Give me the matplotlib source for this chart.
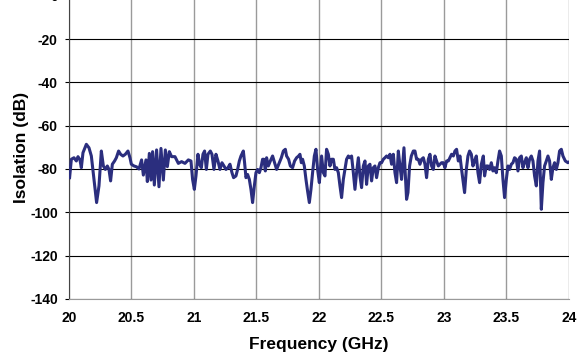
import matplotlib.pyplot as plt
import numpy as np

# Isolation vs frequency
freq_ghz = [
    20.005, 20.019, 20.040, 20.059, 20.072, 20.088, 20.099, 20.112, 20.139, 20.160,
    20.179, 20.200, 20.221, 20.240, 20.259, 20.275, 20.291, 20.307, 20.320, 20.333,
    20.347, 20.365, 20.379, 20.397, 20.413, 20.432, 20.451, 20.472, 20.488, 20.499,
    20.520, 20.541, 20.560, 20.581, 20.595, 20.616, 20.627, 20.643, 20.656, 20.669,
    20.683, 20.701, 20.720, 20.736, 20.755, 20.771, 20.787, 20.803, 20.821, 20.848,
    20.875, 20.901, 20.928, 20.955, 20.976, 20.989, 21.003, 21.016, 21.032, 21.045,
    21.059, 21.072, 21.085, 21.099, 21.112, 21.131, 21.144, 21.160, 21.176, 21.192,
    21.208, 21.224, 21.240, 21.256, 21.272, 21.288, 21.304, 21.317,
    21.336, 21.349, 21.363, 21.376, 21.395, 21.405, 21.416, 21.429, 21.443, 21.456,
    21.469, 21.483, 21.496, 21.509, 21.523, 21.536, 21.549, 21.560, 21.571, 21.581,
    21.595, 21.611, 21.629, 21.645, 21.661, 21.683, 21.699, 21.715, 21.731, 21.741,
    21.757, 21.771, 21.789, 21.805, 21.821, 21.837, 21.848, 21.859, 21.869, 21.883,
    21.896, 21.909, 21.923, 21.936, 21.949, 21.963, 21.976, 21.989, 22.003,
    22.021, 22.035, 22.048, 22.061, 22.075, 22.088, 22.101, 22.115, 22.128, 22.141,
    22.155, 22.168, 22.181, 22.195, 22.208, 22.221, 22.235, 22.248, 22.261, 22.275,
    22.288, 22.301, 22.315, 22.328, 22.341, 22.355, 22.368, 22.381, 22.395, 22.408,
    22.421, 22.435, 22.448, 22.461, 22.475, 22.488, 22.501, 22.515, 22.528, 22.541,
    22.555, 22.568, 22.581, 22.595, 22.608, 22.621, 22.635, 22.648, 22.661,
    22.680, 22.701, 22.712, 22.725, 22.739, 22.755, 22.768, 22.781, 22.795, 22.808,
    22.821, 22.835, 22.848, 22.861, 22.875, 22.888, 22.901, 22.915, 22.928, 22.941,
    22.955, 22.968, 22.981, 22.995, 23.008, 23.021, 23.035, 23.048, 23.061, 23.075,
    23.088, 23.101, 23.115, 23.128, 23.141, 23.155, 23.165, 23.179, 23.192, 23.205,
    23.219, 23.232, 23.245, 23.259, 23.272, 23.285, 23.299, 23.315, 23.325, 23.339,
    23.352, 23.365, 23.379, 23.392, 23.405, 23.419, 23.432, 23.445, 23.459, 23.472,
    23.485, 23.499, 23.512, 23.525, 23.539, 23.552, 23.565, 23.579, 23.592, 23.605,
    23.619, 23.632, 23.645, 23.659, 23.672, 23.685, 23.699, 23.712, 23.725, 23.739,
    23.752, 23.765, 23.779, 23.792, 23.805, 23.819, 23.832, 23.845, 23.859, 23.872,
    23.885, 23.899, 23.912, 23.925, 23.939, 23.952, 23.971, 23.992, 24.000,
]

isolation_db = [
    -84.0, -75.5, -74.8, -76.3, -74.3, -75.8, -79.4, -72.5, -68.6, -70.2,
    -74.0, -84.8, -95.5, -87.8, -71.7, -78.6, -80.2, -78.6, -80.2, -85.5,
    -77.8, -76.3, -74.8, -71.7, -73.2, -74.0, -73.2, -71.7, -74.8, -77.8,
    -78.6, -79.0, -80.0, -75.8, -82.8, -75.8, -85.8, -72.8, -85.1, -72.0,
    -87.4, -71.2, -88.2, -70.5, -85.1, -71.2, -78.9, -72.0, -74.3, -74.3,
    -77.4, -76.6, -77.4, -75.8, -76.3, -84.8, -89.4, -83.2, -73.2, -77.8,
    -79.4, -73.2, -71.7, -80.2, -73.2, -71.7, -73.2, -80.2, -73.2, -76.3,
    -80.2, -77.1, -78.6, -80.2, -79.4, -77.8, -81.7, -84.0,
    -83.2, -80.2, -76.3, -74.0, -71.7, -77.1, -84.0, -82.5, -84.8, -89.4,
    -95.5, -87.8, -81.7, -80.2, -81.7, -79.4, -75.5, -75.5, -80.9, -74.8,
    -78.6, -76.3, -74.0, -77.1, -80.2, -77.1, -74.8, -71.7, -70.9, -74.0,
    -75.5, -78.6, -79.4, -76.3, -74.8, -74.0, -73.2, -77.1, -75.5, -78.6,
    -84.8, -90.2, -95.5, -89.4, -81.7, -74.0, -70.9, -80.2, -86.3,
    -74.0, -81.7, -83.2, -70.9, -73.2, -78.6, -75.5, -75.5, -80.2, -79.4,
    -81.7, -87.8, -93.2, -84.8, -80.2, -75.5, -74.0, -74.8, -74.0, -81.7,
    -89.4, -81.7, -74.8, -83.2, -88.6, -78.6, -76.3, -87.1, -78.6, -77.8,
    -85.5, -79.4, -78.6, -84.0, -79.4, -77.1, -77.1, -75.5, -74.8, -74.0,
    -74.8, -73.2, -77.8, -73.2, -81.7, -86.3, -71.7, -78.6, -84.8,
    -70.2, -94.0, -90.9, -78.6, -74.0, -71.7, -71.7, -75.5, -75.5, -77.8,
    -75.5, -74.8, -77.8, -84.0, -75.5, -73.2, -78.6, -80.2, -74.0, -76.3,
    -78.6, -77.8, -77.1, -77.1, -79.4, -76.3, -76.3, -74.8, -73.2, -74.0,
    -71.7, -70.9, -76.3, -74.0, -80.2, -86.3, -90.9, -80.2, -74.0, -71.7,
    -73.2, -78.6, -76.3, -74.0, -81.7, -86.3, -77.8, -74.0, -83.2, -78.6,
    -78.6, -80.2, -77.1, -80.9, -79.4, -81.7, -76.3, -71.7, -74.0, -84.8,
    -93.2, -84.8, -78.6, -80.2, -77.8, -77.1, -74.8, -75.5, -80.9, -74.8,
    -74.0, -79.4, -77.1, -74.8, -79.4, -75.5, -74.0, -76.3, -83.2, -87.8,
    -76.3, -71.7, -98.6, -86.3, -78.6, -76.3, -74.0, -76.3, -84.8, -79.4,
    -77.1, -80.2, -77.1, -71.7, -70.9, -74.0, -76.3, -77.1, -76.8,
]

x_ticks = [20, 20.5, 21, 21.5, 22, 22.5, 23, 23.5, 24]
x_tick_labels = ['20', '20.5', '21', '21.5', '22', '22.5', '23', '23.5', '24']
y_ticks = np.arange(-140, 1, 20)

plt.rcParams['font.family'] = ['Liberation Sans', 'DejaVu Sans']
plt.rcParams['axes.unicode_minus'] = False

fig = plt.figure(figsize=(5.86, 3.54), dpi=100)
ax = fig.add_axes([0.1177, 0.1554, 0.8532, 0.8568])

# vertical grid grey, horizontal grid black like the original
for xv in x_ticks:
    ax.axvline(xv, color='#9a9a9a', lw=1.0, zorder=1)
for yv in y_ticks:
    ax.axhline(yv, color='black', lw=0.8, zorder=1)

ax.plot(freq_ghz, isolation_db, color='#2b2e7e', lw=2.2, zorder=3,
        solid_joinstyle='round')

ax.set_xlim(20, 24)
ax.set_ylim(-140, 0)
ax.set_xticks(x_ticks)
ax.set_xticklabels(x_tick_labels)
ax.set_yticks(y_ticks)

ax.tick_params(axis='x', length=0, pad=9, labelsize=10)
ax.tick_params(axis='y', length=3, width=0.8, pad=5, labelsize=10, direction='out')
for lab in ax.get_xticklabels() + ax.get_yticklabels():
    lab.set_fontweight('bold')

for side in ['top', 'right']:
    ax.spines[side].set_visible(False)
ax.spines['left'].set_color('#444444')
ax.spines['bottom'].set_color('#9a9a9a')

ax.set_xlabel('Frequency (GHz)', fontsize=12.5, fontweight='bold', labelpad=8)
ax.set_ylabel('Isolation (dB)', fontsize=12.5, fontweight='bold', labelpad=1)

fig.savefig('out.png', dpi=100)
